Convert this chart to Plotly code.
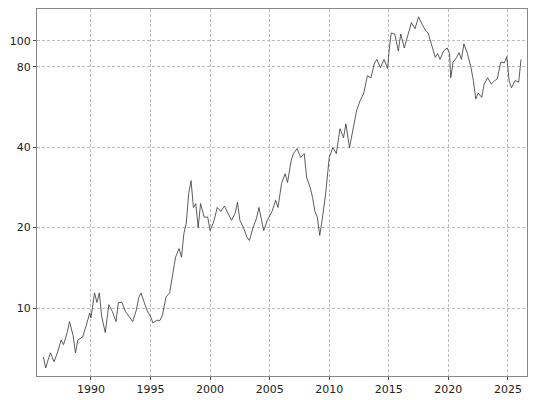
import plotly.graph_objects as go

years = [1986.0,1986.2,1986.4,1986.6,1986.9,1987.2,1987.5,1987.7,1988.0,1988.2,1988.5,1988.7,1988.9,1989.3,1989.6,1989.9,1990.0,1990.3,1990.5,1990.7,1990.9,1991.2,1991.5,1991.8,1992.1,1992.3,1992.6,1992.9,1993.2,1993.5,1993.8,1994.0,1994.2,1994.5,1994.7,1995.0,1995.2,1995.5,1995.8,1996.0,1996.3,1996.6,1996.8,1997.1,1997.4,1997.6,1997.8,1998.0,1998.2,1998.4,1998.6,1998.8,1999.0,1999.2,1999.5,1999.8,2000.0,2000.3,2000.6,2000.9,2001.2,2001.5,2001.8,2002.1,2002.3,2002.5,2002.8,2003.1,2003.3,2003.6,2003.9,2004.1,2004.3,2004.5,2004.8,2005.0,2005.2,2005.5,2005.7,2006.0,2006.3,2006.5,2006.8,2007.0,2007.3,2007.6,2007.9,2008.1,2008.4,2008.6,2008.8,2009.0,2009.2,2009.4,2009.7,2010.0,2010.3,2010.6,2010.9,2011.2,2011.4,2011.7,2012.0,2012.3,2012.6,2012.9,2013.2,2013.5,2013.8,2014.0,2014.3,2014.6,2014.9,2015.0,2015.2,2015.5,2015.8,2016.0,2016.3,2016.6,2016.9,2017.2,2017.5,2017.8,2018.1,2018.3,2018.6,2018.9,2019.1,2019.3,2019.6,2019.9,2020.1,2020.2,2020.4,2020.7,2020.9,2021.1,2021.3,2021.6,2021.9,2022.1,2022.3,2022.5,2022.8,2023.0,2023.3,2023.6,2023.9,2024.1,2024.4,2024.7,2024.9,2025.1,2025.3,2025.6,2025.9,2026.1]
values = [6.56,5.97,6.4,6.8,6.3,6.85,7.6,7.3,8.1,8.9,7.9,6.8,7.6,7.8,8.6,9.6,9.2,11.4,10.5,11.4,9.3,8.1,10.3,9.7,8.9,10.5,10.5,9.7,9.3,8.9,9.8,10.9,11.4,10.5,9.8,9.3,8.8,9.0,9.0,9.4,11.0,11.4,13.1,15.5,16.7,15.5,19.0,20.8,26.8,30.0,23.8,24.6,20.0,24.6,21.9,21.9,19.5,21.0,23.8,23.0,24.1,22.6,21.3,22.6,24.9,21.3,20.0,18.4,17.9,20.0,21.7,23.8,21.7,19.5,21.3,22.2,23.0,25.3,23.8,29.3,31.8,29.5,35.6,37.9,39.5,36.6,37.9,30.8,28.3,25.9,23.0,21.9,18.7,21.3,26.8,36.6,39.8,37.9,46.9,43.4,48.9,39.8,46.1,54.9,59.8,63.8,74.0,72.7,82.7,85.2,79.3,85.2,78.7,89.6,107,106,91.7,106,94,106,117,111,123,115,109,107,97.3,86.7,89.6,85.2,91.7,94,89.6,72.7,83.3,86.7,90.3,85.2,97.3,89.6,79.3,71,60.6,63.8,61.4,68.9,72.7,68.9,71,72,83.3,82.7,87.3,71,66.7,71,70,85.2]
ytick_vals = [10, 20, 40, 80, 100]
xtick_vals = [1990, 1995, 2000, 2005, 2010, 2015, 2020, 2025]

fig = go.Figure(go.Scatter(x=years, y=values, mode="lines", cliponaxis=False,
                           line=dict(color="#333333", width=0.8)))
grid = dict(showgrid=True, gridcolor="#bdbdbd", griddash="3px,2px", gridwidth=0.7,
            automargin=False, zeroline=False, showline=True, linecolor="#888", mirror=True)
fig.update_layout(
    width=531, height=392, margin=dict(l=29, r=12, t=1, b=24),
    paper_bgcolor="white", plot_bgcolor="white", showlegend=False,
    font=dict(family="DejaVu Sans", size=11, color="#222"),
    xaxis=dict(range=[1985.47, 2026.6], tickvals=xtick_vals, ticks="outside", ticklen=3, **grid),
    yaxis=dict(type="log", range=[0.746, 2.119], tickvals=ytick_vals, ticks="outside", ticklen=3, **grid),
)
fig.write_html("out.html")
